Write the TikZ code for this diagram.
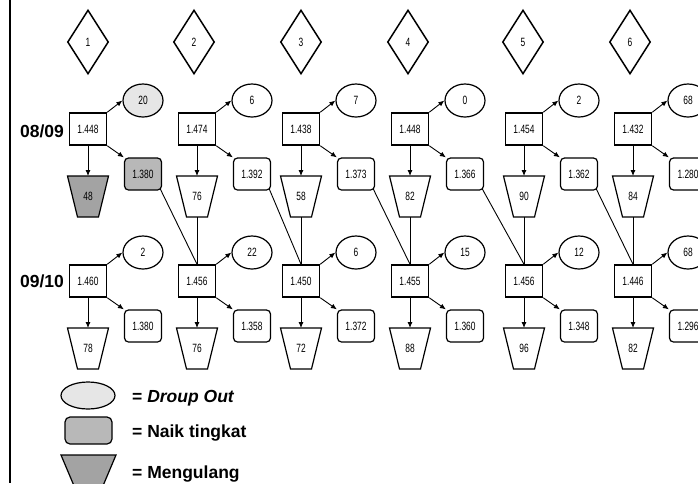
\documentclass[tikz,border=0pt]{standalone}
\usepackage{fontspec}
\setmainfont{Liberation Sans}
\newfontfamily\numfont{Liberation Sans}[FakeStretch=0.7]
\usetikzlibrary{shapes.geometric,arrows.meta}

\definecolor{dropgray}{HTML}{E6E6E6}
\definecolor{naikgray}{HTML}{B8B8B8}
\definecolor{trapgray}{HTML}{A3A3A3}

\tikzset{
  num/.style={font=\numfont\fontsize{12}{14}\selectfont, inner sep=0pt},
  boxshape/.style={num, draw, line width=1.5pt, fill=white,
    minimum width=37pt, minimum height=32pt},
  ellshape/.style={num, draw, ellipse, line width=1.2pt,
    minimum width=40pt, minimum height=33pt},
  naikshape/.style={num, draw, line width=1.2pt, rounded corners=4pt,
    minimum width=37pt, minimum height=32pt},
  trapframe/.style={inner sep=0pt, outer sep=0pt,
    minimum width=41pt, minimum height=41pt},
  trapline/.style={draw, line width=1.2pt, line join=miter},
  ell-plain/.style={ellshape, fill=white},
  ell-shaded/.style={ellshape, fill=dropgray},
  naik-plain/.style={naikshape, fill=white},
  naik-shaded/.style={naikshape, fill=naikgray},
  trap-plain/.style={trapline, fill=white},
  trap-shaded/.style={trapline, fill=trapgray},
  dia/.style={num, draw, diamond, line width=1.5pt,
    minimum width=41pt, minimum height=64pt},
  arrow/.style={line width=0.9pt, -{Latex[length=6pt,width=5pt]}},
  link/.style={line width=0.9pt},
  rowlab/.style={font=\bfseries\fontsize{17.5}{20}\selectfont, inner sep=0pt, anchor=base},
  leglab/.style={font=\bfseries\fontsize{17.5}{20}\selectfont, inner sep=0pt, anchor=base west},
}

% one cohort unit: #1 id, #2 x, #3 y, #4 enrolled, #5 drop out,
% #6 promoted, #7 repeating, #8 plain/shaded
\newcommand\mkunit[8]{%
  \node[boxshape] (b#1) at (#2,#3) {#4};
  \node[ell-#8] (e#1) at ({#2+55},{#3-28.5}) {#5};
  \node[naik-#8] (n#1) at ({#2+55},{#3+45}) {#6};
  \node[trapframe] (t#1) at (#2,{#3+67.5}) {};
  \draw[trap-#8] (t#1.north west) -- (t#1.north east)
    -- ([xshift=-10pt]t#1.south east) -- ([xshift=10pt]t#1.south west) -- cycle
    (t#1.center) node[num] (tl#1) {#7};
  \draw[arrow] (b#1.north east) -- (e#1.west);
  \draw[arrow] (b#1.south east) -- (n#1.north west);
  \draw[arrow] (b#1.south) -- (t#1.north);
}

\begin{document}
\begin{tikzpicture}[x=1pt,y=-1pt]
  \useasboundingbox (0,0) rectangle (698,483);
  \clip (0,0) rectangle (698,483);

  % left frame line
  \draw[line width=2pt] (9.5,0) -- (9.5,483);

  % grade markers
  \node[dia] (d1) at (88,42) {1};
  \node[dia] (d2) at (194,42) {2};
  \node[dia] (d3) at (301,42) {3};
  \node[dia] (d4) at (408,42) {4};
  \node[dia] (d5) at (523,42) {5};
  \node[dia] (d6) at (630,42) {6};

  % year labels
  \node[rowlab] (y1) at (42,137) {08/09};
  \node[rowlab] (y2) at (42,287) {09/10};

  % 08/09
  \mkunit{11}{88}{129}{1.448}{20}{1.380}{48}{shaded}
  \mkunit{21}{197}{129}{1.474}{6}{1.392}{76}{plain}
  \mkunit{31}{301}{129}{1.438}{7}{1.373}{58}{plain}
  \mkunit{41}{410}{129}{1.448}{0}{1.366}{82}{plain}
  \mkunit{51}{524}{129}{1.454}{2}{1.362}{90}{plain}
  \mkunit{61}{633}{129}{1.432}{68}{1.280}{84}{plain}

  % 09/10
  \mkunit{12}{88}{281}{1.460}{2}{1.380}{78}{plain}
  \mkunit{22}{197}{281}{1.456}{22}{1.358}{76}{plain}
  \mkunit{32}{301}{281}{1.450}{6}{1.372}{72}{plain}
  \mkunit{42}{410}{281}{1.455}{15}{1.360}{88}{plain}
  \mkunit{52}{524}{281}{1.456}{12}{1.348}{96}{plain}
  \mkunit{62}{633}{281}{1.446}{68}{1.296}{82}{plain}

  % flows into the next year
  \foreach \k/\j in {1/2,2/3,3/4,4/5,5/6}{
    \draw[link] ([shift={(-2,-2)}]n\k1.south east) -- (b\j2.north);
  }
  \foreach \k in {2,...,6}{
    \draw[link] (t\k1.south) -- (b\k2.north);
  }

  % legend
  \node[draw, ellipse, line width=1.2pt, fill=dropgray,
    minimum width=54pt, minimum height=27pt] (lg1) at (88,395.5) {};
  \node[leglab] (lt1) at (132,402) {= \textit{Droup Out}};
  \node[draw, line width=1.2pt, rounded corners=5pt, fill=naikgray,
    minimum width=47pt, minimum height=27pt] (lg2) at (88.5,430.5) {};
  \node[leglab] (lt2) at (132,437) {= Naik tingkat};
  \draw[line width=1.2pt, fill=trapgray] (61,455) -- (116,455)
    -- (97,500) -- (80,500) -- cycle;
  \node[leglab] (lt3) at (132,478) {= Mengulang};
\end{tikzpicture}
\end{document}
